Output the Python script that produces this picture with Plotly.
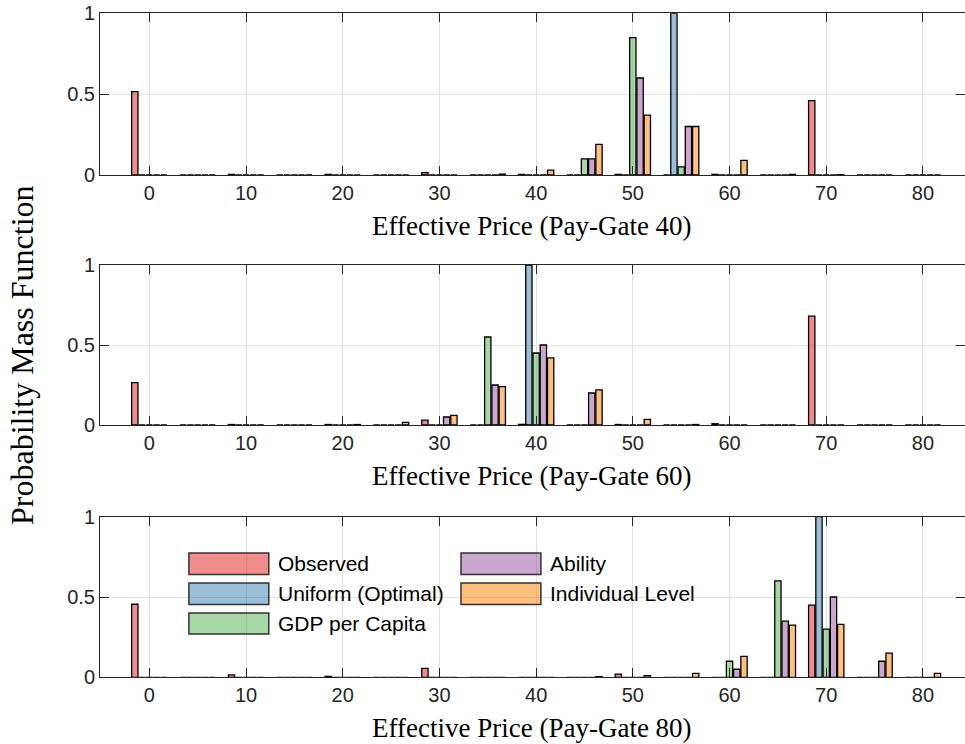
import plotly.graph_objects as go

# ---- data ----
groups = [0, 5, 10, 15, 20, 25, 30, 35, 40, 45, 50, 55, 60, 65, 70, 75, 80]
series_names = ["Observed", "Uniform (Optimal)", "GDP per Capita", "Ability", "Individual Level"]
series_colors = ["rgba(228,26,28,0.5)", "rgba(55,126,184,0.5)", "rgba(77,175,74,0.5)",
                 "rgba(152,78,163,0.5)", "rgba(255,127,0,0.5)"]
pay_gates = [40, 60, 80]

# Pay-Gate 40
pg40_observed   = [0.515, 0, 0.003, 0, 0.003, 0, 0.015, 0, 0.004, 0, 0.004, 0, 0.004, 0, 0.46, 0, 0]
pg40_uniform    = [0, 0, 0, 0, 0, 0, 0, 0, 0, 0, 0, 1.0, 0, 0, 0, 0, 0]
pg40_gdp        = [0, 0, 0, 0, 0, 0, 0, 0, 0, 0.10, 0.85, 0.05, 0, 0, 0, 0, 0]
pg40_ability    = [0, 0, 0, 0, 0, 0, 0, 0, 0, 0.10, 0.60, 0.30, 0, 0, 0, 0, 0]
pg40_individual = [0, 0, 0, 0, 0, 0, 0, 0.005, 0.03, 0.19, 0.37, 0.30, 0.09, 0.004, 0.002, 0, 0]

# Pay-Gate 60
pg60_observed   = [0.265, 0, 0.003, 0, 0.003, 0, 0.03, 0, 0.004, 0, 0.003, 0, 0.008, 0, 0.68, 0, 0]
pg60_uniform    = [0, 0, 0, 0, 0, 0, 0, 0, 1.0, 0, 0, 0, 0, 0, 0, 0, 0]
pg60_gdp        = [0, 0, 0, 0, 0, 0, 0, 0.55, 0.45, 0, 0, 0, 0, 0, 0, 0, 0]
pg60_ability    = [0, 0, 0, 0, 0, 0, 0.05, 0.25, 0.50, 0.20, 0, 0, 0, 0, 0, 0, 0]
pg60_individual = [0, 0, 0, 0, 0.003, 0.017, 0.06, 0.24, 0.42, 0.22, 0.035, 0.003, 0, 0, 0, 0, 0]

# Pay-Gate 80
pg80_observed   = [0.455, 0, 0.015, 0, 0.005, 0, 0.055, 0, 0, 0, 0.02, 0, 0, 0, 0.45, 0, 0]
pg80_uniform    = [0, 0, 0, 0, 0, 0, 0, 0, 0, 0, 0, 0, 0, 0, 1.0, 0, 0]
pg80_gdp        = [0, 0, 0, 0, 0, 0, 0, 0, 0, 0, 0, 0, 0.10, 0.60, 0.30, 0, 0]
pg80_ability    = [0, 0, 0, 0, 0, 0, 0, 0, 0, 0, 0, 0, 0.05, 0.35, 0.50, 0.10, 0]
pg80_individual = [0, 0, 0, 0, 0, 0, 0, 0, 0, 0.004, 0.01, 0.025, 0.13, 0.325, 0.33, 0.15, 0.025]

panels = [
    [pg40_observed, pg40_uniform, pg40_gdp, pg40_ability, pg40_individual],
    [pg60_observed, pg60_uniform, pg60_gdp, pg60_ability, pg60_individual],
    [pg80_observed, pg80_uniform, pg80_gdp, pg80_ability, pg80_individual],
]

x_ticks = [0, 10, 20, 30, 40, 50, 60, 70, 80]
y_ticks = [0, 0.5, 1]
y_ticktext = ["0", "0.5", "1"]

# ---- layout geometry (pixels) ----
W, H = 965, 744
panel_px = [(13.3, 175.0), (265.0, 425.0), (516.7, 677.3)]
left_px, right_px = 100.0, 965.0

fig = go.Figure()
axis_color = "#262626"
grid_color = "#e0e0e0"
tick_font = dict(family="Liberation Sans, Arial, sans-serif", size=20, color=axis_color)

for i, (panel, (top, bot)) in enumerate(zip(panels, panel_px)):
    xa = "x" if i == 0 else f"x{i+1}"
    ya = "y" if i == 0 else f"y{i+1}"
    for name, color, vals in zip(series_names, series_colors, panel):
        fig.add_trace(go.Bar(
            x=groups, y=vals, name=name, xaxis=xa, yaxis=ya,
            marker=dict(color=color, line=dict(color="black", width=1.3)),
            showlegend=False,
        ))
    xkey = "xaxis" if i == 0 else f"xaxis{i+1}"
    ykey = "yaxis" if i == 0 else f"yaxis{i+1}"
    fig.layout[xkey] = dict(
        domain=[left_px / W, right_px / W], anchor=ya, range=[-5.1, 84.35],
        tickvals=x_ticks, ticks="inside", ticklen=9, tickcolor=axis_color, tickwidth=1,
        showline=True, linecolor=axis_color, linewidth=1, mirror="ticks",
        showgrid=True, gridcolor=grid_color, gridwidth=1, zeroline=False,
        tickfont=tick_font, automargin=False,
    )
    fig.layout[ykey] = dict(
        domain=[1 - bot / H, 1 - top / H], anchor=xa, range=[0, 1],
        tickvals=y_ticks, ticktext=y_ticktext, ticks="inside", ticklen=9,
        tickcolor=axis_color, tickwidth=1,
        showline=True, linecolor=axis_color, linewidth=1, mirror="ticks",
        showgrid=True, gridcolor=grid_color, gridwidth=1, zeroline=False,
        tickfont=tick_font, automargin=False,
    )
    fig.add_annotation(
        x=532 / W, y=1 - (bot + 51) / H, xref="paper", yref="paper",
        text=f"Effective Price (Pay-Gate {pay_gates[i]})", showarrow=False,
        font=dict(family="Liberation Serif, serif", size=27, color="black"),
        xanchor="center", yanchor="middle",
    )

# y title
fig.add_annotation(
    x=22 / W, y=1 - 355 / H, xref="paper", yref="paper",
    text="Probability Mass Function", textangle=-90, showarrow=False,
    font=dict(family="Liberation Serif, serif", size=32, color="black"),
    xanchor="center", yanchor="middle",
)

# custom legend (MATLAB-style wide swatches) inside bottom panel
legend_cols = [(188.9, 268.8, 275.7), (461.0, 540.9, 548.2)]
legend_rows = [(553.1, 574.4), (583.0, 604.4), (613.0, 634.0)]
legend_slots = [(0, 0), (0, 1), (0, 2), (1, 0), (1, 1)]
for (c, r), name, color in zip(legend_slots, series_names, series_colors):
    x0, x1, xt = legend_cols[c]
    y0, y1 = legend_rows[r]
    fig.add_shape(type="rect", xref="paper", yref="paper",
                  x0=x0 / W, x1=x1 / W, y0=1 - y1 / H, y1=1 - y0 / H,
                  fillcolor=color, line=dict(color="#333333", width=1.5), layer="above")
    fig.add_annotation(x=xt / W, y=1 - (y0 + y1) / 2 / H, xref="paper", yref="paper",
                       text=name, showarrow=False, xanchor="left", yanchor="middle",
                       font=dict(family="Liberation Sans, Arial, sans-serif", size=21, color="black"))

fig.update_layout(
    template="none",
    width=W, height=H, margin=dict(l=0, r=0, t=0, b=0, pad=0, autoexpand=False),
    paper_bgcolor="white", plot_bgcolor="white",
    barmode="group", bargap=0.25, bargroupgap=0.13,
    showlegend=False,
)

fig.write_html("out.html", config={"displayModeBar": False},
               post_script="document.body.style.margin='0';")
